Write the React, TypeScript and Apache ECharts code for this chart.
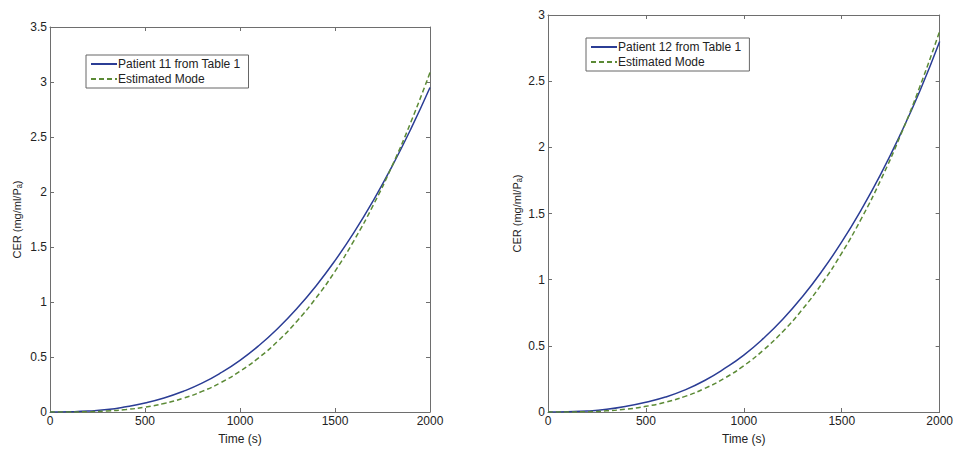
import React, { useEffect, useRef } from "react";
import * as echarts from "echarts";

const times = [0, 100, 200, 300, 400, 500, 600, 700, 800, 900, 1000, 1100, 1200, 1300, 1400, 1500, 1600, 1700, 1800, 1900, 2000];

const patient11 = [0, 0.002, 0.008, 0.022, 0.048, 0.082, 0.127, 0.187, 0.262, 0.357, 0.47, 0.605, 0.762, 0.942, 1.146, 1.376, 1.633, 1.918, 2.232, 2.576, 2.95];
const estimated11 = [0, 0.0003, 0.0027, 0.0093, 0.0224, 0.044, 0.0775, 0.124, 0.187, 0.268, 0.37, 0.495, 0.646, 0.826, 1.036, 1.279, 1.559, 1.876, 2.235, 2.638, 3.086];

const patient12 = [0, 0.002, 0.007, 0.02, 0.043, 0.074, 0.113, 0.167, 0.238, 0.327, 0.43, 0.556, 0.703, 0.873, 1.067, 1.285, 1.53, 1.8, 2.1, 2.43, 2.8];
const estimated12 = [0, 0.0003, 0.0026, 0.009, 0.0216, 0.0426, 0.074, 0.118, 0.178, 0.254, 0.35, 0.468, 0.609, 0.777, 0.973, 1.201, 1.461, 1.756, 2.09, 2.463, 2.878];

const xTicks = [0, 500, 1000, 1500, 2000];
const yLabelName = "CER (mg/ml/Pₐ)";
const xLabelName = "Time (s)";
const name11 = "Patient 11 from Table 1";
const name12 = "Patient 12 from Table 1";
const nameEst = "Estimated Mode";

const FONT = "Liberation Sans";
const AXIS_COLOR = "#6e6e6e";
const BLUE = "#2b3d95";
const GREEN = "#5b8a35";

function pairs(xs: number[], ys: number[]) {
  return xs.map((x, i) => [x, ys[i]]);
}

export default function App() {
  const ref = useRef<HTMLDivElement>(null);
  useEffect(() => {
    if (!ref.current) return;
    const chart = echarts.init(ref.current, undefined, { renderer: "svg" });

    const grids = [
      { left: 50, top: 27, width: 380, height: 386 },
      { left: 548, top: 15, width: 392, height: 398 },
    ];
    const yMax = [3.5, 3];

    const xAxes: any[] = [];
    const yAxes: any[] = [];
    grids.forEach((_, g) => {
      const common = {
        gridIndex: g,
        type: "value",
        min: 0,
        max: xTicks[xTicks.length - 1],
        interval: 500,
        splitLine: { show: false },
        axisLine: { show: true, onZero: false, lineStyle: { color: AXIS_COLOR, width: 1 } },
        axisTick: { show: true, inside: true, length: 4, lineStyle: { color: AXIS_COLOR } },
      };
      xAxes.push({
        ...common,
        position: "bottom",
        name: xLabelName,
        nameLocation: "middle",
        nameGap: 21,
        nameTextStyle: { color: "#222", fontFamily: FONT, fontSize: 12 },
        axisLabel: { color: "#222", fontFamily: FONT, fontSize: 12, margin: 3, formatter: (v: number) => String(v) },
      });
      xAxes.push({ ...common, position: "top", axisLabel: { show: false } });
      const ycommon = {
        gridIndex: g,
        type: "value",
        min: 0,
        max: yMax[g],
        interval: 0.5,
        splitLine: { show: false },
        axisLine: { show: true, onZero: false, lineStyle: { color: AXIS_COLOR, width: 1 } },
        axisTick: { show: true, inside: true, length: 4, lineStyle: { color: AXIS_COLOR } },
      };
      yAxes.push({
        ...ycommon,
        position: "left",
        name: yLabelName,
        nameLocation: "middle",
        nameGap: g === 0 ? 28 : 26,
        nameTextStyle: { color: "#222", fontFamily: FONT, fontSize: 11 },
        axisLabel: { color: "#222", fontFamily: FONT, fontSize: 12, margin: 3 },
      });
      yAxes.push({ ...ycommon, position: "right", axisLabel: { show: false } });
    });

    const lineSeries = (name: string, xs: number[], ys: number[], g: number, dashed: boolean) => ({
      name,
      type: "line",
      xAxisIndex: g * 2,
      yAxisIndex: g * 2,
      data: pairs(xs, ys),
      showSymbol: false,
      symbol: "none",
      smooth: true,
      lineStyle: {
        color: dashed ? GREEN : BLUE,
        width: 1.5,
        type: dashed ? [5, 3] : "solid",
      },
      itemStyle: { color: dashed ? GREEN : BLUE },
    });

    const legendBase = {
      orient: "vertical",
      borderColor: "#666",
      borderWidth: 1,
      backgroundColor: "#fff",
      padding: [3, 8, 3, 4],
      itemGap: 3,
      itemWidth: 26,
      itemHeight: 10,
      itemStyle: { opacity: 0 },
      textStyle: { color: "#222", fontFamily: FONT, fontSize: 12, padding: [0, 0, 0, -4] },
    };

    chart.setOption({
      animation: false,
      backgroundColor: "#fff",
      grid: grids,
      xAxis: xAxes,
      yAxis: yAxes,
      legend: [
        { ...legendBase, left: 86, top: 55, data: [name11, nameEst] },
        { ...legendBase, left: 586, top: 38, data: [name12, nameEst] },
      ],
      series: [
        lineSeries(name11, times, patient11, 0, false),
        lineSeries(nameEst, times, estimated11, 0, true),
        lineSeries(name12, times, patient12, 1, false),
        lineSeries(nameEst, times, estimated12, 1, true),
      ],
    });
    return () => chart.dispose();
  }, []);
  return (
    <div
      ref={ref}
      style={{ position: "fixed", left: 0, top: 0, width: 956, height: 450, background: "#fff" }}
    />
  );
}
